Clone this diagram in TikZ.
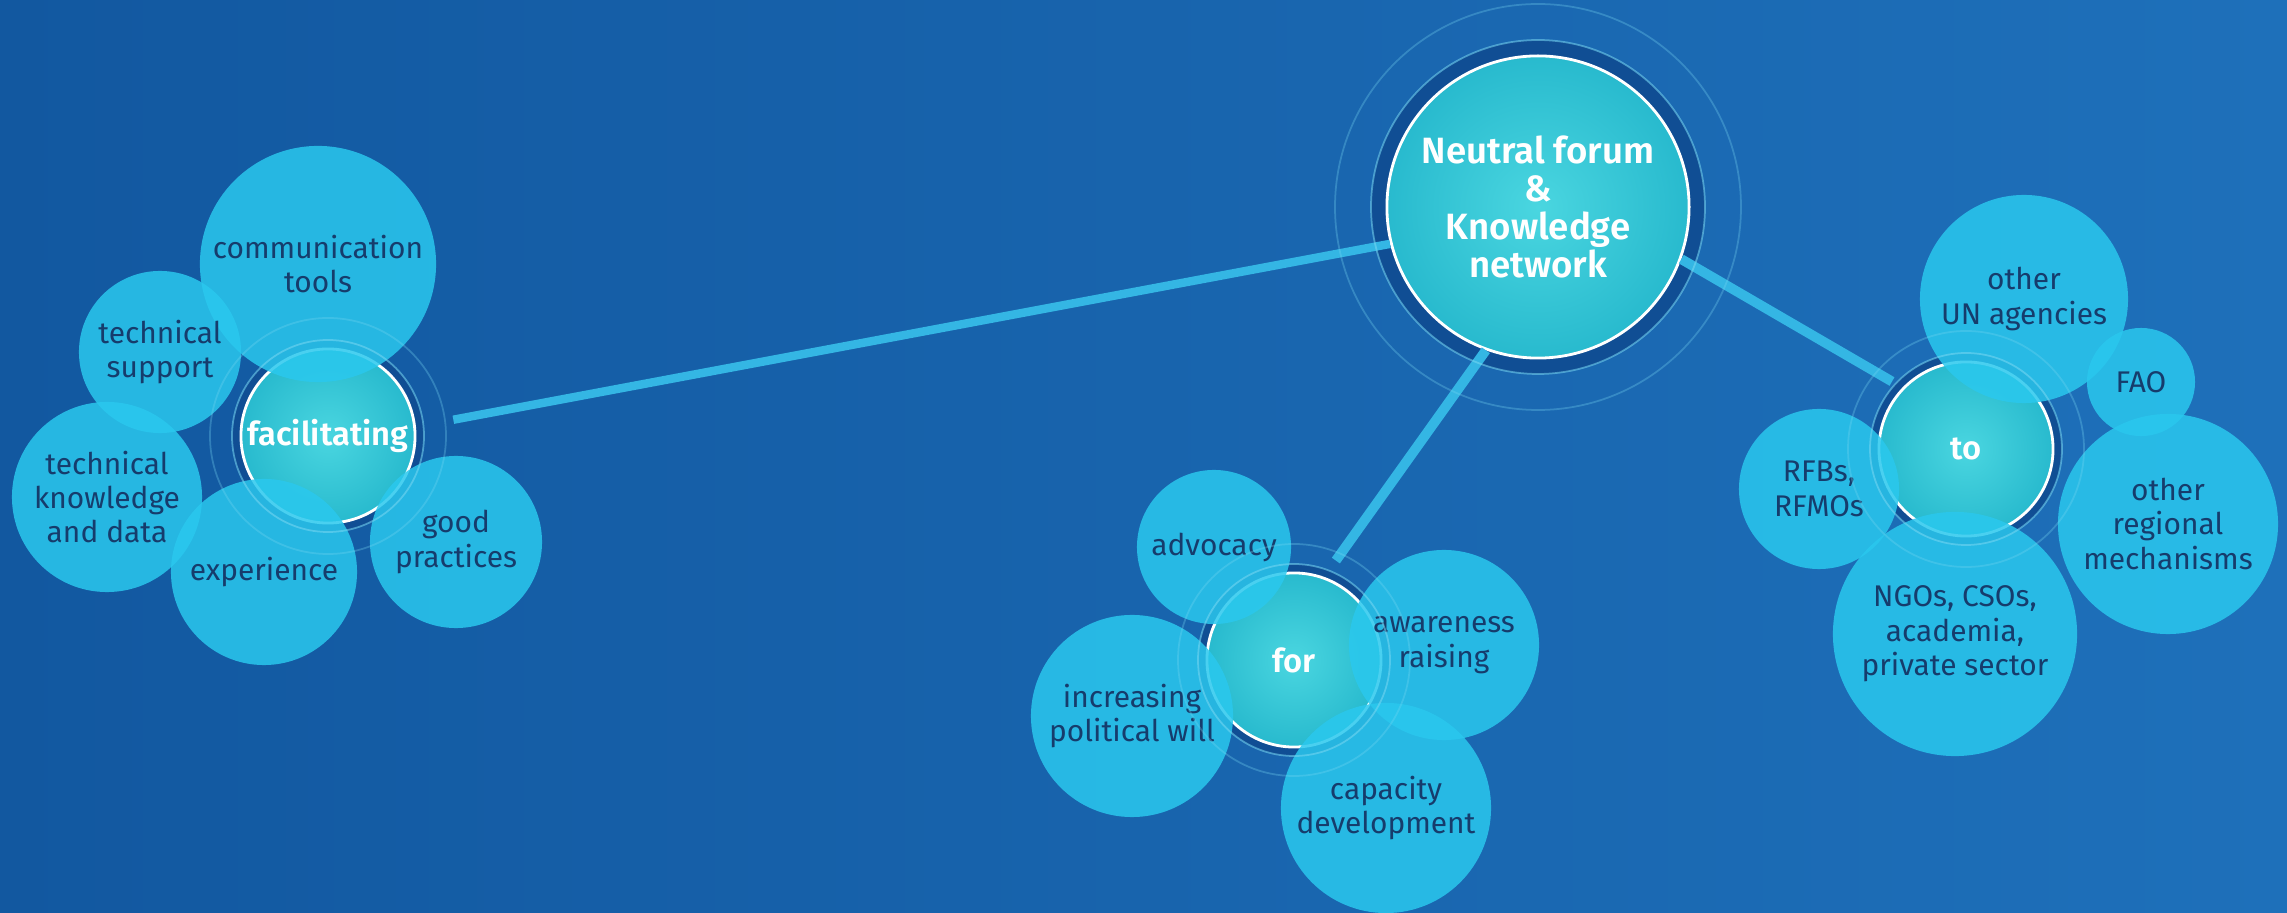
\documentclass[tikz,border=0pt]{standalone}
\usepackage{fontspec}
\setmainfont{Fira Sans}[BoldFont={Fira Sans SemiBold}]
\usetikzlibrary{backgrounds}

\definecolor{bgdark}{RGB}{18,88,160}
\definecolor{bglight}{RGB}{30,112,186}
\definecolor{bubcol}{RGB}{42,200,238}
\definecolor{bubtext}{RGB}{22,60,108}
\definecolor{hubin}{RGB}{74,214,224}
\definecolor{hubout}{RGB}{40,186,206}
\definecolor{bandcol}{RGB}{16,78,148}
\definecolor{linkcol}{RGB}{52,182,228}
\definecolor{ringcol}{RGB}{120,215,242}

\tikzset{%
    bubsty/.style={
        circle,
        fill=bubcol,
        fill opacity=0.85,
        text opacity=1,
        text=bubtext,
        align=center,
        inner sep=0pt,
        minimum size=#1,
        font=\fontsize{8.5}{9.8}\selectfont,
    },
    hubsty/.style={
        circle,
        inner color=hubin,
        outer color=hubout,
        draw=white,
        line width=0.8pt,
        text=white,
        align=center,
        inner sep=0pt,
        minimum size=#1,
        font=\bfseries\fontsize{9.3}{10}\selectfont,
    },
    bandsty/.style={
        preaction={draw=bandcol, line width=#1},
    },
    linksty/.style={
        draw=linkcol,
        line width=2.8pt,
    },
    ringsty/.style={
        draw=ringcol,
        line width=0.5pt,
        opacity=#1,
    },
}

\begin{document}
\begin{tikzpicture}[x=0.01cm,y=-0.01cm]

\useasboundingbox (0,0) rectangle (2287,913);

% hub nodes
\node (main) [hubsty=3.02cm,bandsty=9pt,font=\bfseries\fontsize{10.4}{10.8}\selectfont] at (1538,207)
     {Neutral forum\\\&\\Knowledge\\network};
\node (hubfac) [hubsty=1.74cm,bandsty=5pt] at (328,436) {facilitating};
\node (hubfor) [hubsty=1.74cm,bandsty=5pt] at (1294,660) {for};
\node (hubto) [hubsty=1.74cm,bandsty=5pt] at (1966,449) {to};

% links from the forum
\draw [linksty,line width=2.4pt,shorten >=0.38cm] (main.194) -- (hubfac.6);
\draw [linksty,shorten >=0.2cm] (main.-110) -- (hubfor.70);
\draw [linksty,shorten >=0.12cm] (main.-20) -- (hubto.136);

% facilitating nodes
\node (comm) [bubsty=2.36cm] at (318,264) {communication\\tools};
\node (techsup) [bubsty=1.62cm] at (160,352) {technical\\support};
\node (techknow) [bubsty=1.90cm] at (107,497) {technical\\knowledge\\and data};
\node (exper) [bubsty=1.86cm] at (264,572) {experience};
\node (goodpr) [bubsty=1.72cm] at (456,542) {good\\practices};

% for nodes
\node (advoc) [bubsty=1.54cm] at (1214,547) {advocacy};
\node (aware) [bubsty=1.90cm] at (1444,645) {awareness\\raising};
\node (polwill) [bubsty=2.02cm] at (1132,716) {increasing\\political will};
\node (capdev) [bubsty=2.10cm] at (1386,808) {capacity\\development};

% to nodes
\node (unag) [bubsty=2.08cm] at (2024,299) {other\\UN agencies};
\node (fao) [bubsty=1.08cm] at (2141,382) {FAO};
\node (rfbs) [bubsty=1.60cm] at (1819,489) {RFBs,\\RFMOs};
\node (regmech) [bubsty=2.20cm] at (2168,524) {other\\regional\\mechanisms};
\node (ngos) [bubsty=2.44cm] at (1955,634) {NGOs, CSOs,\\academia,\\private sector};

% rings round the hubs
\foreach \h/\ra/\rb in {main/167/203, hubfac/96/118, hubfor/96/116, hubto/96/118} {
    \draw [ringsty=0.55] (\h.center) circle (\ra);
    \draw [ringsty=0.3] (\h.center) circle (\rb);
}

\begin{scope}[on background layer]
\shade [left color=bgdark, right color=bglight] (0,0) rectangle (2287,913);
\end{scope}

\end{tikzpicture}
\end{document}
